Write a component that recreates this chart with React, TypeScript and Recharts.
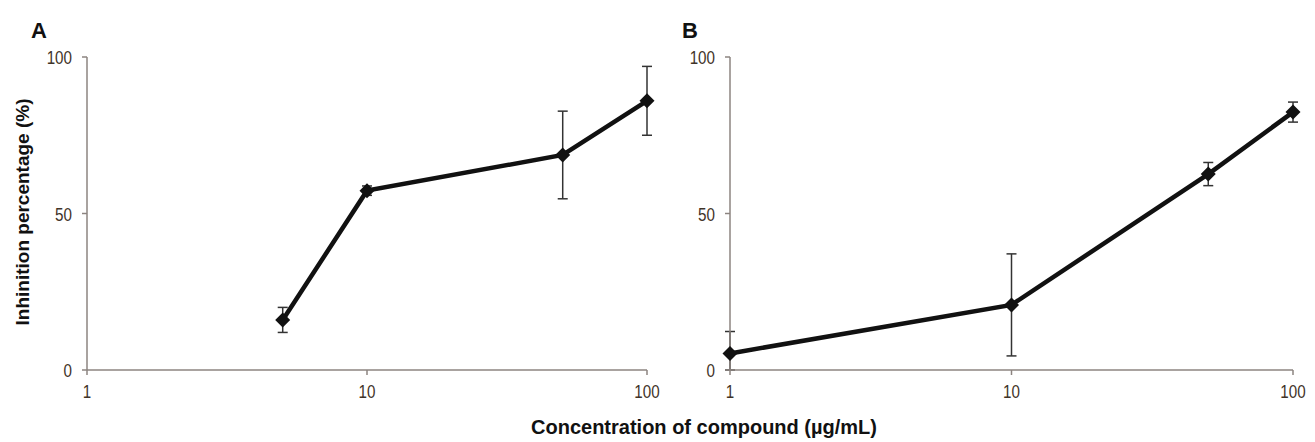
import React from 'react';
import { ComposedChart, Line, XAxis, YAxis, ErrorBar } from 'recharts';

// Panel A
const concA = [5, 10, 50, 100];
const inhibA = [16, 57.3, 68.7, 86];
const errA = [4, 1.5, 14, 11];

// Panel B
const concB = [1, 10, 50, 100];
const inhibB = [5.3, 20.8, 62.6, 82.4];
const errLowB = [5.3, 16.3, 3.7, 3.2];
const errHighB = [7, 16.3, 3.7, 3.2];

const xTicks = [1, 10, 100];
const yTicks = [0, 50, 100];

const AXIS = '#8c8480';
const TICK_TEXT = '#3f3328';
const labelFont = '"Liberation Sans", Arial, sans-serif';

const dataA = concA.map((c, i) => ({ conc: c, inhib: inhibA[i], err: errA[i] }));
const dataB = concB.map((c, i) => ({ conc: c, inhib: inhibB[i], err: [errLowB[i], errHighB[i]] }));

// narrow-looking tick text (no Arial Narrow available)
const NarrowTick = (props: any) => {
  const { x, y, payload, textAnchor, orientation } = props;
  const ty = orientation === 'bottom' ? y + 15 : y + 7;
  return (
    <g transform={`translate(${x},${ty}) scale(0.8,1)`}>
      <text x={0} y={0} textAnchor={textAnchor} fontFamily={labelFont} fontSize={19} fill={TICK_TEXT}>
        {payload.value}
      </text>
    </g>
  );
};

const Diamond = (props: any) => {
  const { cx, cy, index } = props;
  if (cx == null || cy == null) return null;
  const r = 7.5;
  return (
    <path
      key={`d-${index}`}
      d={`M${cx},${cy - r}L${cx + r},${cy}L${cx},${cy + r}L${cx - r},${cy}Z`}
      fill="#111"
    />
  );
};

interface PanelProps {
  data: any[];
  left: number;
  width: number;
  marginLeft: number;
  marginRight: number;
}

const Panel: React.FC<PanelProps> = ({ data, left, width, marginLeft, marginRight }) => (
  <div style={{ position: 'absolute', left, top: 0 }}>
    <ComposedChart
      width={width}
      height={442}
      data={data}
      margin={{ top: 57, right: marginRight, bottom: 42, left: marginLeft }}
    >
      <XAxis
        dataKey="conc"
        type="number"
        scale="log"
        domain={[1, 100]}
        ticks={xTicks}
        height={30}
        stroke={AXIS}
        strokeWidth={1.5}
        tickSize={5}
        tickMargin={8}
        tick={<NarrowTick orientation="bottom" />}
        interval={0}
      />
      <YAxis
        type="number"
        domain={[0, 100]}
        ticks={yTicks}
        width={40}
        stroke={AXIS}
        strokeWidth={1.5}
        tickSize={5}
        tickMargin={10}
        tick={<NarrowTick orientation="left" />}
        interval={0}
      />
      <Line
        dataKey="inhib"
        type="linear"
        stroke="#111"
        strokeWidth={4.5}
        dot={Diamond}
        activeDot={false}
        isAnimationActive={false}
      >
        <ErrorBar dataKey="err" direction="y" width={5} stroke="#333" strokeWidth={1.5} isAnimationActive={false} />
      </Line>
    </ComposedChart>
  </div>
);

export default function App() {
  return (
    <div style={{ position: 'absolute', left: 0, top: 0, width: 1315, height: 442, background: '#fff', overflow: 'hidden' }}>
      <Panel data={dataA} left={0} width={660} marginLeft={47} marginRight={13} />
      <Panel data={dataB} left={660} width={655} marginLeft={30} marginRight={22} />
      <svg width={1315} height={442} style={{ position: 'absolute', left: 0, top: 0, pointerEvents: 'none' }}>
        <text x={31} y={38} fontFamily={labelFont} fontWeight="bold" fontSize={22} fill="#111">A</text>
        <text x={682} y={38} fontFamily={labelFont} fontWeight="bold" fontSize={22} fill="#111">B</text>
        <text
          x={22}
          y={212}
          transform="rotate(-90 22 212)"
          textAnchor="middle"
          dominantBaseline="central"
          fontFamily={labelFont}
          fontWeight="bold"
          fontSize={19}
          fill="#111"
        >
          Inhinition percentage (%)
        </text>
        <text
          x={704}
          y={434}
          textAnchor="middle"
          fontFamily={labelFont}
          fontWeight="bold"
          fontSize={20}
          fill="#111"
        >
          Concentration of compound (µg/mL)
        </text>
      </svg>
    </div>
  );
}
